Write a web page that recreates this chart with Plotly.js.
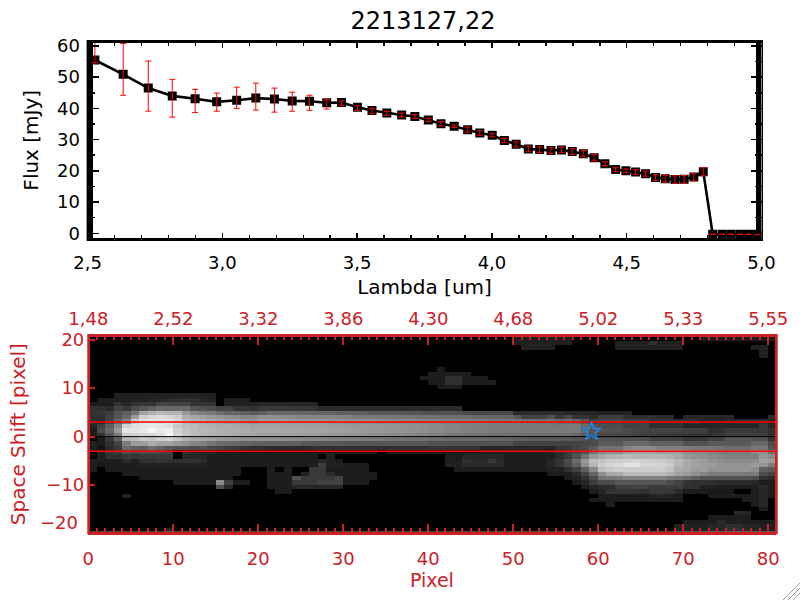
<!DOCTYPE html>
<html><head><meta charset="utf-8">
<script src="https://cdn.plot.ly/plotly-3.0.1.min.js"></script>
<style>html,body{margin:0;padding:0;background:#fff}#c{width:800px;height:600px}</style>
</head><body><div id="c"></div>
<script>
const lambdaUm=[2.527,2.632,2.725,2.814,2.899,2.979,3.053,3.124,3.193,3.259,3.323,3.387,3.442,3.501,3.555,3.610,
3.665,3.714,3.764,3.811,3.860,3.910,3.955,4.001,4.046,4.090,4.135,4.177,4.219,4.258,4.298,4.339,4.379,4.419,4.459,4.497,4.533,4.570,4.607,4.643,4.679,4.713,4.749,4.784,
4.819,4.854,4.887,4.920,4.952,4.984];
const fluxMJy=[55.5,50.9,46.5,44.0,43.1,42.1,42.6,43.3,43.0,42.4,42.3,41.8,41.9,40.4,39.3,38.5,
37.9,37.4,36.3,35.1,34.3,33.2,32.1,31.4,29.7,28.5,27.0,26.8,26.5,26.7,26.2,25.5,24.2,22.3,20.4,20.0,19.6,19.1,17.9,17.5,17.2,17.3,18.0,19.7,
-0.3,-0.3,-0.3,-0.3,-0.3,-0.3];
const errPlus=[5.9,9.9,8.7,5.3,3.0,2.8,4.2,4.8,3.5,2.8,1.9,1.0,0.5,0.5,0.7,0.5,
0.6,0.6,0.5,0.7,0.4,0.8,0.7,0.5,0.7,0.8,0.9,0.9,0.9,0.9,1.0,1.0,1.0,0.6,0.6,0.6,0.8,0.8,0.9,1.1,1.2,1.2,1.2,1.3,
0,0,0,0,0,0];
const errMinus=[0.9,6.7,7.4,6.8,4.4,3.0,2.6,3.8,4.2,3.3,2.9,2.0,0.9,1.0,1.0,0.7,
0.6,0.6,0.5,0.7,0.4,0.8,0.7,0.5,0.7,0.8,0.9,0.9,0.9,0.9,1.0,1.0,1.0,0.6,0.6,0.6,0.8,0.8,0.9,1.1,1.2,1.2,1.2,1.3,
0,0,0,0,0,0];
const pixelTicks=[0,10,20,30,40,50,60,70,80];
const wavelengthLabels=["1,48","2,52","3,32","3,86","4,30","4,68","5,02","5,33","5,55"];
const shiftTicks=[20,10,0,-10];
const apertureShift=[3,-3];
const starPixel=[59.2], starShift=[1.05];
const o=[0,0,0,0,0,0,0,0,0,0];
// grey level of each detector cell, top row first
const frameRows=[
[...o,...o,...o,...o,...o,35,35,35,35,35,35,35,0,0,0,...o,0,0,30,30,30,30,30,30,30,30,30],
[...o,...o,...o,...o,...o,35,35,35,35,35,35,35,0,0,0,0,0,35,35,35,35,50,35,35,35,...o,0],
[...o,...o,...o,...o,...o,0,35,35,35,35,0,0,0,0,0,0,0,35,35,35,35,35,35,35,35,0,0,0,0,0,0,0,0,35,35,0],
[...o,...o,...o,...o,...o,...o,...o,0,0,0,0,0,0,0,0,0,35,0],
[...o,...o,...o,...o,...o,...o,...o,0,0,0,0,0,0,0,0,0,35,0],
[...o,...o,...o,...o,...o,...o,...o,...o,0],
[...o,...o,...o,...o,...o,...o,...o,...o,0],
[...o,...o,...o,...o,0,30,0,0,0,0,0,0,0,0,...o,...o,...o,0],
[...o,...o,...o,...o,30,30,30,30,30,0,0,0,0,0,...o,...o,...o,0],
[...o,...o,...o,0,0,0,0,0,0,0,0,0,30,30,30,50,50,30,30,30,0,0,0,...o,...o,...o,0],
[...o,...o,...o,...o,30,30,50,50,30,30,30,30,0,0,...o,...o,...o,0],
[...o,...o,...o,...o,0,30,30,30,0,0,0,0,0,0,...o,...o,...o,0],
[...o,...o,...o,...o,...o,...o,...o,...o,0],
[0,0,0,35,35,35,35,35,35,35,35,35,35,35,35,0,0,0,0,0,...o,...o,...o,...o,...o,...o,0],
[0,32,32,32,35,35,35,40,40,45,48,50,48,40,35,0,32,32,32,0,...o,...o,...o,...o,...o,...o,0],
[30,30,30,50,40,55,55,55,70,70,70,70,55,55,55,0,35,35,35,38,40,40,40,40,40,40,40,0,0,0,...o,...o,...o,...o,...o,0],
[50,50,45,70,60,80,90,100,110,110,110,110,90,85,80,70,70,55,55,50,60,60,60,58,58,55,55,45,45,45,45,45,45,45,45,45,45,45,45,45,45,45,45,45,0,0,0,0,0,0,...o,...o,...o,0],
[55,55,65,85,100,120,170,185,195,190,190,160,140,130,125,115,105,105,100,95,100,110,110,110,108,108,105,105,105,100,100,100,100,95,95,95,90,90,90,85,85,85,85,85,80,75,75,75,75,75,45,45,45,45,45,45,40,40,40,40,35,35,35,35,0,0,0,0,0,0,...o,0],
[50,50,65,90,110,165,215,225,230,225,215,185,175,170,160,155,150,145,140,140,150,150,148,146,142,140,140,140,140,138,134,130,128,127,126,125,124,123,122,120,120,118,118,116,114,110,110,108,106,105,90,70,70,70,85,60,75,55,55,45,65,65,65,50,50,50,50,45,45,0,40,40,40,40,40,40,0,0,0,0,45],
[50,45,70,105,140,215,235,240,235,240,225,195,185,180,175,170,165,165,160,155,165,165,164,163,162,160,160,158,157,155,153,152,150,149,148,146,145,144,142,140,140,138,135,135,133,130,130,128,127,126,125,122,120,118,120,115,118,110,90,70,75,75,75,70,70,70,55,55,55,55,50,50,40,40,40,45,45,45,45,50,35],
[40,70,100,140,220,235,240,245,240,235,210,200,195,190,185,180,180,175,175,170,172,172,170,170,170,168,168,166,165,163,162,160,160,158,156,155,154,152,150,148,145,143,140,138,135,132,132,130,130,130,128,126,125,125,125,125,128,128,110,90,80,80,80,70,70,70,50,50,50,50,40,40,40,40,40,40,40,40,40,60,40],
[30,80,110,160,240,240,245,255,245,250,220,205,198,192,188,185,182,180,178,175,175,175,174,174,172,172,170,170,168,167,165,163,162,160,158,156,155,152,150,148,145,143,140,138,135,132,130,130,130,130,128,128,127,127,127,128,128,128,110,90,85,85,85,80,75,70,70,70,70,70,65,65,65,50,50,60,60,60,60,60,50],
[30,50,90,130,215,220,225,225,235,255,225,205,195,190,185,182,180,178,175,172,170,170,168,168,166,165,164,162,160,158,156,154,152,150,148,146,145,142,140,138,135,132,128,125,122,120,120,118,118,118,118,116,115,115,115,115,115,110,100,80,75,75,75,72,70,65,65,62,60,58,55,55,55,55,55,65,65,65,65,65,50],
[0,30,60,100,190,195,210,205,215,220,205,185,175,170,165,160,158,155,152,150,150,150,148,146,145,143,142,140,138,136,134,132,130,128,126,124,122,120,118,116,114,112,110,110,110,110,108,106,105,104,100,100,95,95,95,95,95,90,85,80,85,85,85,85,85,85,70,70,70,70,60,60,60,70,70,90,90,90,85,85,55],
[35,30,50,70,130,165,165,180,170,170,160,150,140,135,125,115,110,108,105,102,100,100,100,100,100,90,90,90,90,90,90,90,90,90,90,90,90,90,90,90,85,85,85,85,85,85,85,85,85,85,70,70,70,70,70,70,70,70,75,80,95,95,95,110,110,110,100,100,100,100,85,85,85,95,95,95,95,95,110,110,80],
[30,20,45,60,110,100,100,115,105,90,85,85,80,85,75,70,65,60,55,50,50,45,45,45,45,45,50,50,50,50,50,50,50,50,50,50,50,50,50,50,55,55,55,55,55,55,40,40,40,40,40,40,40,40,40,55,60,70,80,95,120,120,120,140,145,145,145,135,135,135,130,125,125,125,120,115,115,115,125,125,90],
[0,35,55,60,80,70,80,80,75,70,0,50,45,45,45,30,30,30,30,30,30,30,30,30,30,30,30,30,30,30,32,32,32,32,0,30,30,30,30,30,30,30,30,30,30,30,30,30,30,30,30,30,30,32,35,50,60,75,85,120,140,150,150,165,170,170,170,165,165,165,150,145,145,135,130,130,130,130,150,150,120],
[0,30,50,50,60,55,60,60,60,60,0,40,40,40,30,30,30,30,30,30,30,30,30,30,30,30,30,0,35,0,...o,0,0,30,30,40,40,40,40,40,30,30,30,30,30,30,45,60,85,120,160,175,185,190,195,190,190,190,190,185,175,160,155,150,145,140,135,135,135,135,160,145],
[30,30,30,30,45,35,50,50,55,50,50,50,50,45,30,30,30,30,30,30,30,30,30,30,30,30,30,40,35,30,...o,0,0,30,30,50,45,45,60,45,30,30,30,30,30,40,55,80,115,160,200,205,215,215,220,225,220,215,215,205,195,180,170,165,155,150,145,145,145,150,170,165],
[30,25,30,30,30,30,35,35,35,35,35,35,35,35,30,30,30,30,30,30,30,30,30,30,30,30,30,65,35,35,30,30,30,0,0,0,0,0,0,0,0,0,35,35,45,45,45,45,45,30,30,30,30,30,40,55,75,100,150,190,215,225,230,240,240,225,225,220,215,190,175,170,165,165,155,155,155,155,165,155,135],
[30,0,30,30,30,30,30,30,30,30,30,30,30,30,30,30,30,30,0,0,0,30,0,30,0,0,60,60,30,30,30,30,30,0,0,0,0,0,0,0,0,0,0,30,30,30,30,30,30,30,30,30,30,30,35,35,50,70,100,145,200,210,215,215,215,215,215,215,205,180,175,165,165,155,155,155,155,155,150,100,95],
[0,0,0,0,30,30,30,30,30,30,30,30,30,30,30,30,30,30,0,0,0,30,30,30,0,35,60,60,45,30,30,30,30,30,0,0,0,0,0,0,...o,0,0,0,0,30,30,30,45,70,105,150,175,180,195,195,195,195,195,185,170,165,150,140,130,130,130,130,125,130,80,70],
[0,0,0,0,0,0,30,30,30,30,30,30,30,30,30,30,30,0,0,0,0,30,30,30,85,60,60,60,60,70,30,30,30,30,0,0,0,0,0,0,...o,0,0,0,0,0,0,30,35,50,80,120,125,130,135,135,135,135,135,125,120,110,100,85,85,85,85,85,85,80,50,45],
[...o,30,30,30,30,30,145,65,30,30,0,0,30,30,30,60,60,60,70,70,70,30,30,30,0,0,0,0,0,0,0,...o,0,0,0,0,0,0,0,30,40,65,80,80,90,90,90,90,90,90,80,70,55,50,50,50,45,45,45,45,40,30,30],
[...o,0,0,0,0,0,85,40,0,0,0,0,30,30,30,40,40,40,40,40,40,...o,...o,0,0,0,0,0,0,0,0,30,40,45,45,65,65,70,70,60,60,65,65,50,50,35,35,30,30,30,30,30,45,30],
[...o,...o,0,0,30,30,0,0,0,0,0,0,...o,...o,0,0,0,0,0,0,0,0,0,30,40,55,55,55,55,50,60,60,60,45,30,30,30,25,25,25,0,0,30,40,30],
[0,0,0,0,35,0,0,0,0,0,...o,...o,...o,...o,...o,30,30,30,30,30,30,35,40,35,30,0,0,0,30,30,30,30,30,30,40,30],
[...o,...o,...o,...o,...o,0,0,0,0,0,0,0,0,0,30,30,30,30,30,30,30,30,30,30,30,0,0,0,0,0,0,0,30,30,40,0],
[...o,...o,...o,...o,...o,...o,0,30,0,0,0,0,0,0,0,0,0,0,0,0,0,0,0,0,30,40,0],
[...o,...o,...o,...o,...o,...o,...o,0,0,0,0,0,0,0,0,0,30,0],
[...o,...o,...o,...o,...o,...o,...o,0,0,0,0,0,0,40,40,0,0,0],
[...o,...o,...o,...o,...o,...o,...o,0,0,0,30,30,30,30,30,0,0,0],
[...o,...o,...o,...o,...o,...o,...o,30,30,30,30,45,30,35,30,30,30,30],
[...o,...o,...o,...o,...o,...o,0,0,0,0,0,0,0,0,0,35,35,35,35,40,40,50,50,40,40,35,35],
[0,0,0,0,0,0,0,0,0,40,...o,...o,...o,...o,...o,0,0,0,0,0,0,0,0,0,35,35,35,35,40,40,50,50,40,40,35,35]
];

const W=800,H=600;
const px=v=>v/W, py=v=>1-v/H;
const INK='#000000', RED='#cc2027', LINE='#ff0000', STAR='#1e88f0';
const fontFamily='"DejaVu Sans", sans-serif';
const rowsBottomUp=frameRows.slice().reverse();

const data=[
 {type:'scatter',mode:'lines+markers',x:lambdaUm,y:fluxMJy,xaxis:'x',yaxis:'y',
  line:{color:INK,width:2.6},marker:{symbol:'square',size:9,color:INK},hoverinfo:'skip',showlegend:false},
 {type:'scatter',mode:'markers',x:lambdaUm,y:fluxMJy,xaxis:'x',yaxis:'y',
  marker:{size:1,opacity:0},hoverinfo:'skip',showlegend:false,
  error_y:{type:'data',symmetric:false,array:errPlus,arrayminus:errMinus,color:LINE,thickness:1,width:3}},
 {type:'heatmap',z:rowsBottomUp,x0:0.5,dx:1,y0:20.15-0.9*44,dy:0.9,xaxis:'x2',yaxis:'y2',
  colorscale:[[0,'#000000'],[1,'#ffffff']],zmin:0,zmax:268,showscale:false,hoverinfo:'skip',zsmooth:false},
 {type:'scatter',mode:'lines',x:[0,81],y:[apertureShift[0],apertureShift[0]],xaxis:'x3',yaxis:'y2',line:{color:LINE,width:1.6},hoverinfo:'skip',showlegend:false},
 {type:'scatter',mode:'lines',x:[0,81],y:[apertureShift[1],apertureShift[1]],xaxis:'x3',yaxis:'y2',line:{color:LINE,width:1.6},hoverinfo:'skip',showlegend:false},
 {type:'scatter',mode:'lines',x:[0,81],y:[0,0],xaxis:'x3',yaxis:'y2',line:{color:INK,width:1},hoverinfo:'skip',showlegend:false},
 {type:'scatter',mode:'markers',x:starPixel,y:starShift,xaxis:'x3',yaxis:'y2',
  marker:{symbol:'star-open',size:14,color:STAR,line:{color:STAR,width:1.5}},hoverinfo:'skip',showlegend:false}
];

const rect=(x0,y0,x1,y1,c,layer)=>({type:'rect',xref:'paper',yref:'paper',x0:px(x0),x1:px(x1),y0:py(y1),y1:py(y0),fillcolor:c,line:{width:0},layer:layer});
const grip=(x0,y0,x1,y1)=>({type:'line',xref:'paper',yref:'paper',x0:px(x0),x1:px(x1),y0:py(y0),y1:py(y1),line:{color:'#9a9a9a',width:1}});

const layout={
 width:W,height:H,margin:{l:0,r:0,t:0,b:0},paper_bgcolor:'#fff',plot_bgcolor:'#fff',showlegend:false,
 separators:',.',
 font:{family:fontFamily,size:18,color:INK},
 title:{text:'2213127,22',font:{family:fontFamily,size:24,color:INK},x:423/W,xanchor:'center',y:py(21),yanchor:'middle'},
 xaxis:{domain:[px(87.6),px(761.5)],anchor:'y',range:[2.5,5],tick0:2.5,dtick:0.5,tickformat:'.1f',ticks:'inside',ticklen:5,tickwidth:1.5,tickcolor:INK,
  minor:{dtick:0.1,ticks:'inside',ticklen:3,tickwidth:1.5,tickcolor:INK,showgrid:false},
  showgrid:false,zeroline:false,showline:true,linewidth:3,linecolor:INK,mirror:'ticks',ticklabelstandoff:6,
  tickfont:{size:18,color:INK},title:{text:'Lambda [um]',font:{size:20,color:INK},standoff:9}},
 yaxis:{domain:[py(238),py(42.5)],anchor:'x',range:[-1.5,61.1],tick0:0,dtick:10,ticks:'inside',ticklen:11,tickwidth:1.5,tickcolor:INK,
  minor:{dtick:5,ticks:'inside',ticklen:7,tickwidth:1.5,tickcolor:INK,showgrid:false},
  showgrid:false,zeroline:false,showline:true,linewidth:1,linecolor:INK,mirror:'ticks',ticklabelstandoff:3,
  tickfont:{size:18,color:INK},title:{text:'Flux [mJy]',font:{size:20,color:INK},standoff:13}},
 xaxis2:{domain:[px(88.3),px(775.5)],anchor:'y2',range:[0,80.85],tickvals:pixelTicks,ticks:'inside',ticklen:8,tickwidth:2,tickcolor:RED,
  minor:{dtick:1,ticks:'inside',ticklen:3.5,tickwidth:2,tickcolor:RED,showgrid:false},
  showgrid:false,zeroline:false,showline:true,linewidth:3,linecolor:RED,ticklabelstandoff:9,
  tickfont:{size:18,color:RED},title:{text:'Pixel',font:{size:19,color:RED},standoff:6}},
 xaxis3:{overlaying:'x2',side:'top',anchor:'y2',range:[0,80.85],tickvals:pixelTicks,ticktext:wavelengthLabels,ticks:'inside',ticklen:8,tickwidth:2,tickcolor:RED,
  minor:{dtick:1,ticks:'inside',ticklen:3.5,tickwidth:2,tickcolor:RED,showgrid:false},
  showgrid:false,zeroline:false,showline:true,linewidth:3,linecolor:RED,ticklabelstandoff:2,
  tickfont:{size:18,color:RED}},
 yaxis2:{domain:[py(531.7),py(336.7)],anchor:'x2',range:[-19.6,20.6],tickvals:shiftTicks,ticks:'inside',ticklen:7,tickwidth:2,tickcolor:RED,
  showgrid:false,zeroline:false,showline:false,ticklabelstandoff:3,
  tickfont:{size:18,color:RED},title:{text:'Space Shift [pixel]',font:{size:20,color:RED},standoff:15}},
 annotations:[{xref:'paper',yref:'paper',x:px(80),y:py(522),xanchor:'right',yanchor:'middle',showarrow:false,text:'\u221220',font:{size:18,color:RED}}],
 shapes:[
  rect(86.6,40,93,241,INK,'below'),
  rect(756,40,761.5,241,INK,'below'),
  rect(87.3,334,90,534.3,RED,'above'),
  rect(775,334,777.7,534.3,RED,'above'),
  grip(783,600,800,583),grip(788,600,800,588),grip(793,600,800,593)
 ]
};
Plotly.newPlot('c',data,layout,{displayModeBar:false,staticPlot:true});
</script></body></html>
